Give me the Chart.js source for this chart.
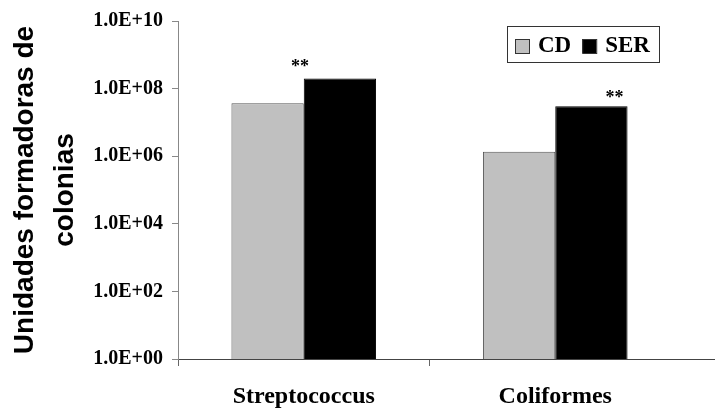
<!DOCTYPE html>
<html>
<head>
<meta charset="utf-8">
<script src="https://cdn.jsdelivr.net/npm/chart.js@4/dist/chart.umd.min.js"></script>
<style>
  html, body { margin: 0; padding: 0; background: #fff; }
  #wrap { width: 715px; height: 414px; }
</style>
</head>
<body>
<div id="wrap"><canvas id="ufcChart"></canvas></div>
<script>
const categories = ["Streptococcus", "Coliformes"];
const cdValues = [3.7e7, 1.35e6];
const serValues = [2.0e8, 3.0e7];
const marks = ["**", "**"];
const yTickValues = [1, 1e2, 1e4, 1e6, 1e8, 1e10];
const yTickLabels = ["1.0E+00", "1.0E+02", "1.0E+04", "1.0E+06", "1.0E+08", "1.0E+10"];

const serif = "'Times New Roman', 'Liberation Serif', serif";

// legend box drawn inside the plot, like the original
const boxLegend = {
  id: "boxLegend",
  afterDraw(chart) {
    const { ctx, chartArea } = chart;
    const right = chartArea.right - 22;
    const top = chartArea.top + 5;
    const w = 152, h = 36;
    const left = right - w;
    ctx.save();
    ctx.strokeStyle = "#333";
    ctx.lineWidth = 1;
    ctx.strokeRect(left + 0.5, top + 0.5, w, h);
    ctx.font = "bold 23px " + serif;
    ctx.textBaseline = "middle";
    let x = left + 8;
    chart.data.datasets.forEach((ds) => {
      ctx.fillStyle = ds.backgroundColor;
      ctx.fillRect(x, top + 13, 14, 14);
      ctx.strokeStyle = "#333";
      ctx.strokeRect(x + 0.5, top + 13.5, 14, 14);
      x += 23;
      ctx.fillStyle = "#000";
      ctx.fillText(ds.label, x, top + 20);
      x += ctx.measureText(ds.label).width + 11;
    });
    ctx.restore();
  },
};

// significance marks and axis line running out to the right edge
const extras = {
  id: "extras",
  afterDatasetsDraw(chart) {
    const { ctx, chartArea } = chart;
    const meta = chart.getDatasetMeta(1);
    const dx = [-40, 23];
    const dy = [-6, -3];
    ctx.save();
    ctx.font = "bold 18px " + serif;
    ctx.fillStyle = "#000";
    ctx.textAlign = "center";
    ctx.textBaseline = "alphabetic";
    meta.data.forEach((bar, i) => {
      ctx.fillText(marks[i], bar.x + dx[i], bar.y + dy[i]);
    });
    ctx.strokeStyle = "#444";
    ctx.lineWidth = 1;
    ctx.beginPath();
    ctx.moveTo(chartArea.right, chartArea.bottom + 0.5);
    ctx.lineTo(chart.width, chartArea.bottom + 0.5);
    ctx.stroke();
    ctx.restore();
  },
};

new Chart(document.getElementById("ufcChart"), {
  type: "bar",
  data: {
    labels: categories,
    datasets: [
      {
        label: "CD",
        data: cdValues,
        backgroundColor: "#c0c0c0",
        borderColor: "#555",
        borderWidth: 1,
      },
      {
        label: "SER",
        data: serValues,
        backgroundColor: "#000",
        borderColor: "#000",
        borderWidth: 1,
      },
    ],
  },
  options: {
    responsive: true,
    maintainAspectRatio: false,
    animation: false,
    layout: { autoPadding: false, padding: { top: 18, right: 34, bottom: 0, left: 0 } },
    datasets: { bar: { categoryPercentage: 0.575, barPercentage: 1.0 } },
    scales: {
      x: {
        grid: {
          drawOnChartArea: false,
          tickLength: 7,
          color: (c) => (c.index === undefined ? "rgba(0,0,0,0)" : "#666"),
        },
        border: { color: "#444" },
        ticks: {
          color: "#000",
          font: { family: serif, size: 24, weight: "bold" },
          padding: 16,
        },
        afterFit: (s) => { s.height = 55; },
      },
      y: {
        type: "logarithmic",
        min: 1,
        max: 1e10,
        afterBuildTicks: (s) => { s.ticks = yTickValues.map((v) => ({ value: v })); },
        grid: { drawOnChartArea: false, tickLength: 6, color: "#888" },
        border: { color: "#888" },
        ticks: {
          color: "#000",
          font: { family: serif, size: 20, weight: "bold" },
          padding: 9,
          callback: (v) => {
            const i = yTickValues.indexOf(v);
            return i >= 0 ? yTickLabels[i] : "";
          },
        },
        title: {
          display: true,
          text: ["Unidades formadoras de", "colonias"],
          color: "#000",
          font: { family: "Arial, 'Liberation Sans', sans-serif", size: 28, weight: "bold", lineHeight: 1.4 },
          padding: { top: 6, bottom: 0 },
        },
        afterFit: (s) => { s.width = 178; },
      },
    },
    plugins: {
      legend: { display: false },
      tooltip: { enabled: false },
    },
  },
  plugins: [boxLegend, extras],
});
</script>
</body>
</html>
